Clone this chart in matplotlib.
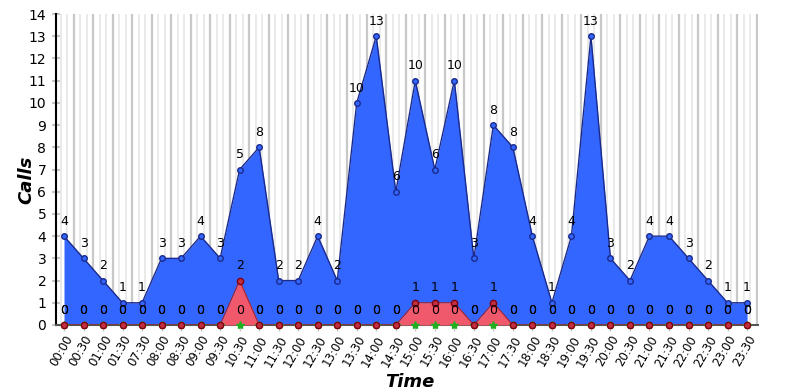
import numpy as np
import matplotlib.pyplot as plt

times = ['00:00', '00:30', '01:00', '01:30', '07:30', '08:00', '08:30', '09:00',
         '09:30', '10:30', '11:00', '11:30', '12:00', '12:30', '13:00', '13:30',
         '14:00', '14:30', '15:00', '15:30', '16:00', '16:30', '17:00', '17:30',
         '18:00', '18:30', '19:00', '19:30', '20:00', '20:30', '21:00', '21:30',
         '22:00', '22:30', '23:00', '23:30']
green = [0] * 36
red = [0, 0, 0, 0, 0, 0, 0, 0, 0, 2, 0, 0, 0, 0, 0, 0,
       0, 0, 1, 1, 1, 0, 1, 0, 0, 0, 0, 0, 0, 0, 0, 0,
       0, 0, 0, 0]
blue = [4, 3, 2, 1, 1, 3, 3, 4, 3, 5, 8, 2, 2, 4, 2, 10,
        13, 6, 10, 6, 10, 3, 8, 8, 4, 1, 4, 13, 3, 2, 4, 4,
        3, 2, 1, 1]

x = np.arange(len(times))
g = np.array(green)
r = g + np.array(red)
b = r + np.array(blue)

fig = plt.figure(figsize=(7.91, 3.92), dpi=100)
ax = fig.add_axes([56 / 791, 1 - 325 / 392, 702 / 791, 311 / 392])

# vertical grid: darker lines between categories, light ones in between
for i in range(-1, len(times)):
    ax.axvline(i + 0.5, color='#c8c8c8', lw=1.6, zorder=0)
    ax.axvline(i + 0.5 + 1 / 3, color='#e6e6e6', lw=1.2, zorder=0)
    ax.axvline(i + 0.5 + 2 / 3, color='#e6e6e6', lw=1.2, zorder=0)

# stacked areas
ax.fill_between(x, r, b, color='#3366ff', lw=0, zorder=2)
ax.plot(x, b, color='#1a2a8c', lw=1, zorder=3)
ax.plot(x, b, 'o', ms=4, mfc='#3366ff', mec='#1a2a8c', mew=1, zorder=4, clip_on=False)
ax.fill_between(x, g, r, color='#f0586c', lw=0, zorder=3)
ax.plot(x, r, color='#a02030', lw=0.8, zorder=3)
ax.plot(x, g, '*', ms=6, color='#20b020', zorder=4, clip_on=False)
ax.plot(x, r, 'o', ms=4.5, mfc='#c03040', mec='#800010', mew=1, zorder=5, clip_on=False)

# value labels
for xi, yv, v in zip(x, g, green):
    ax.annotate(str(v), (xi, yv), xytext=(0, 6), textcoords='offset points',
                ha='center', va='bottom', fontsize=9, zorder=6)
for xi, yv, v in zip(x, r, red):
    ax.annotate(str(v), (xi, yv), xytext=(0, 6), textcoords='offset points',
                ha='center', va='bottom', fontsize=9, zorder=6)
for xi, yv, v in zip(x, b, blue):
    ax.annotate(str(v), (xi, yv), xytext=(0, 6), textcoords='offset points',
                ha='center', va='bottom', fontsize=9, zorder=6)

ax.set_xlim(-0.41, 35.56)
ax.set_ylim(0, 14)
ax.set_yticks(range(0, 15))
ax.set_xticks(x)
ax.set_xticklabels(times, rotation=60, ha='right', rotation_mode='anchor', fontsize=8.5)
ax.tick_params(axis='y', labelsize=10, length=6, color='#c8c8c8', width=1.5,
               direction='inout', pad=4)
ax.tick_params(axis='x', length=4, color='#c8c8c8', width=1, pad=2)

for s in ['top', 'right']:
    ax.spines[s].set_visible(False)
ax.spines['left'].set_color('black')
ax.spines['left'].set_linewidth(1.5)
ax.spines['bottom'].set_color('#555555')
ax.spines['bottom'].set_linewidth(1.5)

fig.text(26 / 791, 1 - 180 / 392, 'Calls', rotation=90, ha='center', va='center',
         fontsize=13, fontweight='bold', fontstyle='italic')
fig.text(410 / 791, 1 - 382 / 392, 'Time', ha='center', va='center',
         fontsize=13, fontweight='bold', fontstyle='italic')

fig.savefig('out.png', dpi=100)
